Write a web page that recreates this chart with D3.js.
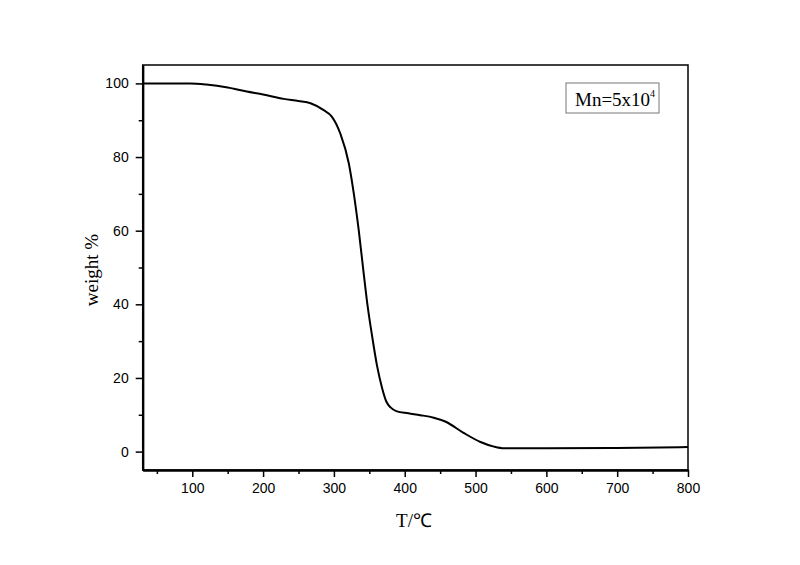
<!DOCTYPE html>
<html>
<head>
<meta charset="utf-8">
<script src="https://cdn.jsdelivr.net/npm/d3@7"></script>
<style>
body { margin: 0; background: #fff; }
.tick text { font-family: "Liberation Sans", Arial, sans-serif; font-size: 14px; fill: #000; }
</style>
</head>
<body>
<script>
// TGA curve
var temps = [30, 60, 97, 120, 150, 177, 200, 229, 250, 267, 285, 297, 309, 321, 328, 335, 342, 347, 354, 361, 368, 374, 380, 388, 405, 422, 441, 458, 483, 507, 526, 540, 600, 700, 760, 800];
var weights = [100, 100, 100, 99.7, 98.9, 97.8, 97.0, 95.8, 95.2, 94.6, 92.8, 91.0, 86.4, 78.3, 70.2, 60.2, 48.5, 40.4, 31.3, 23.2, 17.3, 13.6, 12.0, 11.0, 10.4, 9.9, 9.2, 8.1, 5.1, 2.6, 1.35, 0.9, 0.9, 1.0, 1.1, 1.25];
var xTicks = [100, 200, 300, 400, 500, 600, 700, 800];
var xMinor = [50, 150, 250, 350, 450, 550, 650, 750];
var yTicks = [0, 20, 40, 60, 80, 100];
var yMinor = [10, 30, 50, 70, 90];

var width = 800, height = 565;
var plotLeft = 142.7, plotRight = 688, plotTop = 65, plotBottom = 470;

var svg = d3.select("body").append("svg").attr("width", width).attr("height", height);

var x = d3.scaleLinear().domain([30, 800]).range([plotLeft, plotRight]);
var y = d3.scaleLinear().domain([-5, 105]).range([plotBottom, plotTop]);

// frame
svg.append("rect")
	.attr("x", plotLeft).attr("y", plotTop)
	.attr("width", plotRight - plotLeft).attr("height", plotBottom - plotTop)
	.style("fill", "none").style("stroke", "#000").style("stroke-width", 1.5);

var xAxis = svg.append("g").attr("transform", "translate(0," + plotBottom + ")")
	.call(d3.axisBottom(x).tickValues(xTicks).tickSize(7).tickSizeOuter(0).tickPadding(6));
var xAxisMinor = svg.append("g").attr("transform", "translate(0," + plotBottom + ")")
	.call(d3.axisBottom(x).tickValues(xMinor).tickSize(4).tickSizeOuter(0).tickFormat(""));
var yAxis = svg.append("g").attr("transform", "translate(" + plotLeft + ",0)")
	.call(d3.axisLeft(y).tickValues(yTicks).tickSize(7).tickSizeOuter(0).tickPadding(7));
var yAxisMinor = svg.append("g").attr("transform", "translate(" + plotLeft + ",0)")
	.call(d3.axisLeft(y).tickValues(yMinor).tickSize(4).tickSizeOuter(0).tickFormat(""));

svg.selectAll(".domain").style("stroke", "#000").style("stroke-width", 2);
svg.selectAll(".tick line").style("stroke", "#000").style("stroke-width", 1.5);

// curve
var pts = temps.map(function(t, i){ return [t, weights[i]]; });
var line = d3.line()
	.x(function(d){ return x(d[0]); })
	.y(function(d){ return y(d[1]); })
	.curve(d3.curveMonotoneX);
svg.append("path")
	.datum(pts)
	.attr("d", line)
	.style("fill", "none").style("stroke", "#000").style("stroke-width", 2);

// axis titles
svg.append("text")
	.attr("x", 414).attr("y", 527)
	.attr("text-anchor", "middle")
	.style("font-family", "'Liberation Serif', 'Times New Roman', serif")
	.style("font-size", "19px")
	.text("T/℃");
svg.append("text")
	.attr("transform", "translate(98,270) rotate(-90)")
	.attr("text-anchor", "middle")
	.style("font-family", "'Liberation Serif', 'Times New Roman', serif")
	.style("font-size", "19px")
	.text("weight %");

// legend box
svg.append("rect")
	.attr("x", 566).attr("y", 83).attr("width", 93).attr("height", 30)
	.style("fill", "#fff").style("stroke", "#777").style("stroke-width", 1);
var lab = svg.append("text")
	.attr("x", 575).attr("y", 106)
	.style("font-family", "'Liberation Serif', 'Times New Roman', serif")
	.style("font-size", "19px");
lab.append("tspan").text("Mn=5x10");
lab.append("tspan").attr("dy", -9).style("font-size", "10px").text("4");
</script>
</body>
</html>
